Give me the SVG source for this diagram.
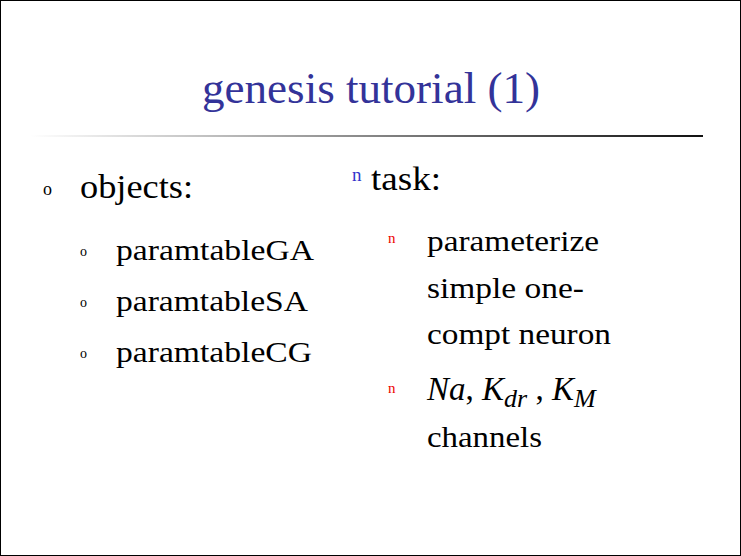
<svg xmlns="http://www.w3.org/2000/svg" width="741" height="556" viewBox="0 0 741 556">
<defs>
<linearGradient id="g" x1="0" x2="1" y1="0" y2="0"><stop offset="0" stop-color="#fff"/><stop offset="1" stop-color="#111"/></linearGradient>
<style>
.t{font-family:"Liberation Serif","Times New Roman",serif;fill:#000}
.b{font-family:"Liberation Serif","Times New Roman",serif}
</style>
</defs>
<rect x="0.5" y="0.5" width="740" height="555" fill="#fff" stroke="#000"/>
<text x="202" y="103" class="b" font-size="44" fill="#333399" textLength="338" lengthAdjust="spacingAndGlyphs">genesis tutorial (1)</text>
<rect x="30" y="135" width="673" height="2" fill="url(#g)"/>
<g id="left">
<text x="43" y="195" class="b" font-size="18">o</text>
<text x="80" y="198" class="t" font-size="33" textLength="113" lengthAdjust="spacingAndGlyphs">objects:</text>
<text x="80" y="256" class="b" font-size="14">o</text>
<text x="116" y="260" class="t" font-size="30" textLength="198" lengthAdjust="spacingAndGlyphs">paramtableGA</text>
<text x="80" y="307" class="b" font-size="14">o</text>
<text x="116" y="311" class="t" font-size="30" textLength="192" lengthAdjust="spacingAndGlyphs">paramtableSA</text>
<text x="80" y="358" class="b" font-size="14">o</text>
<text x="116" y="362" class="t" font-size="30" textLength="196" lengthAdjust="spacingAndGlyphs">paramtableCG</text>
</g>
<g id="right">
<text x="352" y="181" class="b" font-size="19" fill="#3333cc">n</text>
<text x="371" y="190" class="t" font-size="33" textLength="70" lengthAdjust="spacingAndGlyphs">task:</text>
<text x="388" y="243" class="b" font-size="15" fill="#ee0000">n</text>
<text x="427" y="251" class="t" font-size="30" textLength="172" lengthAdjust="spacingAndGlyphs">parameterize</text>
<text x="427" y="298" class="t" font-size="30" textLength="157" lengthAdjust="spacingAndGlyphs">simple one-</text>
<text x="427" y="344" class="t" font-size="30" textLength="184" lengthAdjust="spacingAndGlyphs">compt neuron</text>
<text x="388" y="393" class="b" font-size="15" fill="#ee0000">n</text>
<text x="427" y="400" class="t" font-size="33" font-style="italic">Na<tspan font-style="normal">, </tspan>K<tspan font-size="26" dy="7">dr</tspan><tspan font-style="normal" dy="-7"> , </tspan>K<tspan font-size="26" dy="7">M</tspan></text>
<text x="427" y="447" class="t" font-size="30" textLength="115" lengthAdjust="spacingAndGlyphs">channels</text>
</g>
</svg>
